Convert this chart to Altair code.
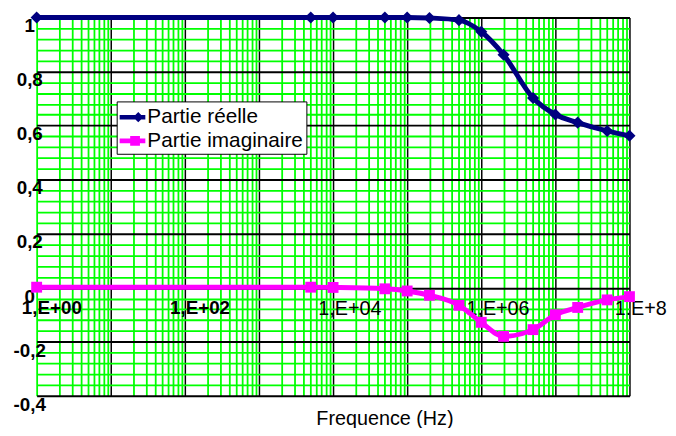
import altair as alt
import pandas as pd

# ---- data ----
freq = [1, 5e3, 1e4, 5e4, 1e5, 2e5, 5e5, 1e6, 2e6, 5e6, 1e7, 2e7, 5e7, 1e8]
reelle = [1.0, 1.0, 1.0, 1.0, 1.0, 0.998, 0.99, 0.947, 0.862, 0.702, 0.641, 0.611, 0.58, 0.562]
imag = [0.002, 0.002, 0.001, -0.004, -0.012, -0.028, -0.065, -0.128, -0.18, -0.155, -0.1, -0.073, -0.045, -0.033]

series_names = ["Partie réelle", "Partie imaginaire"]
series_colors = ["#000080", "#FF00FF"]

x_tick_values = [1, 100, 10000, 1000000, 100000000]
x_tick_labels = ["1,E+00", "1,E+02", "1,E+04", "1,E+06", "1.E+8"]
x_tick_bold = [True, True, False, False, False]

y_tick_values = [1.0, 0.8, 0.6, 0.4, 0.2, 0.0, -0.2, -0.4]
y_tick_labels = ["1", "0,8", "0,6", "0,4", "0,2", "0", "-0,2", "-0,4"]

x_title = "Frequence (Hz)"

FONT = "Liberation Sans"

# ---- grid definitions ----
x_grid = [m * 10 ** k for k in range(8) for m in range(1, 10)] + [10 ** 8]
x_major = [10 ** k for k in range(1, 9)]
y_grid = [round(-0.4 + 0.04 * i, 2) for i in range(36)]
y_major = [round(-0.4 + 0.2 * i, 2) for i in range(8)]

x_major_test = "indexof([" + ",".join(str(v) for v in x_major) + "], datum.value) >= 0"
y_major_test = "indexof([" + ",".join(str(v) for v in y_major) + "], datum.value) >= 0"

xscale = alt.Scale(type="log", domain=[1, 1e8], nice=False)
yscale = alt.Scale(domain=[-0.4, 1.0], nice=False, zero=False)

xaxis = alt.Axis(
    values=x_grid, grid=True, labels=False, ticks=False, domain=False,
    gridColor={"condition": {"test": x_major_test, "value": "#000000"}, "value": "#00FF00"},
    gridWidth={"condition": {"test": x_major_test, "value": 1.5}, "value": 1.8},
    gridOpacity=1,
    title=x_title, titleX=352, titleY=29, titleAlign="center", titleBaseline="alphabetic",
    titleFont=FONT, titleFontSize=20, titleFontWeight="normal", titleColor="#000000",
)
yaxis = alt.Axis(
    values=y_grid, grid=True, labels=False, ticks=False, domain=False,
    gridColor={"condition": {"test": y_major_test, "value": "#000000"}, "value": "#00FF00"},
    gridWidth={"condition": {"test": y_major_test, "value": 2}, "value": 1.8},
    gridOpacity=1,
    title=None,
)

df = pd.DataFrame({"freq": freq, "reelle": reelle, "imag": imag})
xlab = pd.DataFrame({"xv": x_tick_values, "txt": x_tick_labels, "bold": x_tick_bold, "y0": [0.0] * len(x_tick_values)})
ylab = pd.DataFrame({"yv": y_tick_values, "txt": y_tick_labels})
leg = pd.DataFrame({"serie": series_names, "freq": [1, 1], "val": [0.0, 0.0]})

X = lambda f: alt.X(f, type="quantitative", scale=xscale, axis=xaxis)
Y = lambda f: alt.Y(f, type="quantitative", scale=yscale, axis=yaxis)

navy_line = alt.Chart(df).mark_line(color="#000080", strokeWidth=5, interpolate="monotone").encode(
    x=X("freq"), y=Y("reelle"))
navy_pts = alt.Chart(df).mark_point(shape="diamond", filled=True, size=150, color="#000080", opacity=1).encode(
    x=X("freq"), y=Y("reelle"))
pink_line = alt.Chart(df).mark_line(color="#FF00FF", strokeWidth=5, interpolate="monotone").encode(
    x=X("freq"), y=Y("imag"))
pink_pts = alt.Chart(df).mark_point(shape="square", filled=True, size=121, color="#FF00FF", opacity=1).encode(
    x=X("freq"), y=Y("imag"))

ylabels = alt.Chart(ylab).mark_text(align="center", baseline="top", font=FONT, fontSize=19,
                                     fontWeight="bold", color="#000000").encode(
    x=alt.value(-7), y=Y("yv"), text="txt:N")

xlabels_bold = alt.Chart(xlab).transform_filter("datum.bold").mark_text(
    align="left", baseline="top", dx=-15, dy=12, font=FONT, fontSize=19, fontWeight="bold", color="#000000"
).encode(x=X("xv"), y=Y("y0"), text="txt:N")
xlabels_reg = alt.Chart(xlab).transform_filter("!datum.bold").mark_text(
    align="left", baseline="top", dx=-15, dy=12, font=FONT, fontSize=20, fontWeight="normal", color="#000000"
).encode(x=X("xv"), y=Y("y0"), text="txt:N")

legend_paths = [
    "M-1,-0.17H1V0.17H-1Z M0.45,-0.4L0.85,0L0.45,0.4L0.05,0Z",
    "M-1,-0.18H1V0.18H-1Z M-0.18,-0.38H0.58V0.38H-0.18Z",
]
legend_def = alt.Legend(
    title=None, orient="none", legendX=81, legendY=85, padding=3,
    fillColor="#FFFFFF", strokeColor="#000000",
    labelFont=FONT, labelFontSize=21, labelColor="#000000", labelOffset=2,
    symbolSize=676, symbolStrokeWidth=0, symbolOpacity=1, rowPadding=1,
)
legend_layer = alt.Chart(leg).transform_filter("false").mark_point(filled=True, size=676, opacity=1).encode(
    x=X("freq"), y=Y("val"),
    color=alt.Color("serie:N", scale=alt.Scale(domain=series_names, range=series_colors), legend=legend_def),
    shape=alt.Shape("serie:N", scale=alt.Scale(domain=series_names, range=legend_paths), legend=legend_def),
)

chart = alt.layer(
    ylabels, xlabels_bold, xlabels_reg, navy_line, navy_pts, pink_line, pink_pts, legend_layer
).properties(
    width=600, height=383,
    autosize=alt.AutoSizeParams(type="none"),
    padding={"left": 29, "top": 7, "right": 39, "bottom": 30},
).configure_view(strokeWidth=0)

chart.save("out.html", embed_options={"renderer": "svg", "actions": False})
